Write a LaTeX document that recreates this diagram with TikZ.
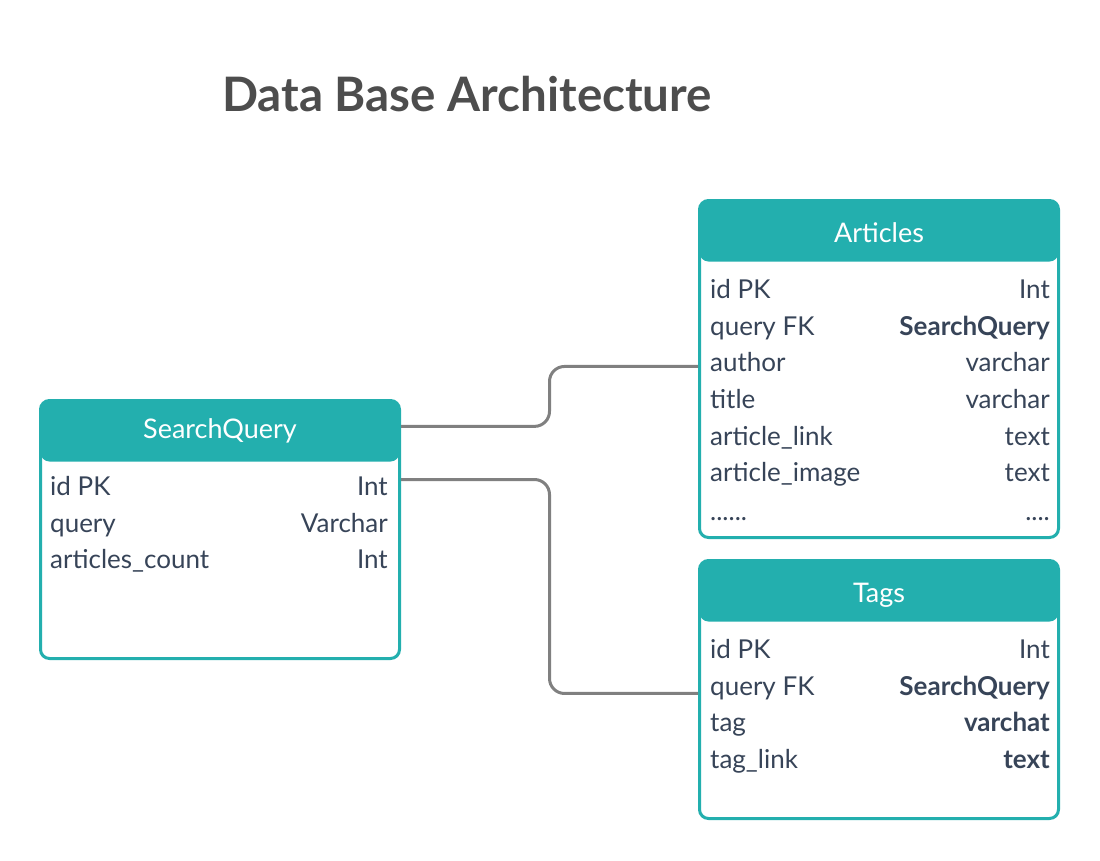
\documentclass[tikz,border=0pt]{standalone}
\usepackage{fontspec}
\setmainfont{Lato}
\usetikzlibrary{calc}
\definecolor{tealc}{RGB}{35,175,174}
\definecolor{inkc}{RGB}{55,68,88}
\definecolor{linkc}{RGB}{128,128,128}
\definecolor{titlec}{RGB}{77,77,77}

\begin{document}
\begin{tikzpicture}[x=1pt,y=-1pt,
  table/.style={draw=tealc, line width=3pt, rounded corners=9pt, fill=white,
    inner sep=0pt, minimum width=359pt, anchor=north west,
    path picture={\fill[tealc] (path picture bounding box.north west)
      rectangle ([yshift=-61pt]path picture bounding box.north east);}},
  headtxt/.style={text=white, font=\fontsize{27}{31}\selectfont, inner sep=0pt, anchor=base},
  field/.style={text=inkc, font=\fontsize{26}{30}\selectfont, inner sep=0pt, anchor=base west},
  ftype/.style={text=inkc, font=\fontsize{26}{30}\selectfont, inner sep=0pt, anchor=base east},
  link/.style={draw=linkc, line width=3pt, rounded corners=15pt}]

\useasboundingbox (0,0) rectangle (1100,860);

\node[text=titlec, font=\fontsize{47.5}{52}\selectfont\bfseries, inner sep=0pt, anchor=base west]
  (title) at (222,111) {Data Base Architecture};

% SearchQuery
\node[table, minimum height=258pt] (sq) at (39,399) {};
\node[headtxt] (sqtitle) at (220,438) {SearchQuery};
\node[field] (sqid) at (50,495) {id PK};
\node[ftype] at (388,495) {Int};
\node[field] (sqquery) at (50,532) {query};
\node[ftype] at (388,532) {Varchar};
\node[field] (sqcount) at (50,568) {articles\_count};
\node[ftype] at (388,568) {Int};

% Articles
\node[table, minimum height=337pt] (art) at (698,199) {};
\node[headtxt] (arthead) at (879,242) {Articles};
\node[field] (artid) at (710,298) {id PK};
\node[ftype] at (1050,298) {Int};
\node[field] (artquery) at (710,335) {query FK};
\node[ftype] at (1050,335) {\bfseries SearchQuery};
\node[field] (artauthor) at (710,371) {author};
\node[ftype] at (1050,371) {varchar};
\node[field] (arttitle) at (710,408) {title};
\node[ftype] at (1050,408) {varchar};
\node[field] (artlink) at (710,445) {article\_link};
\node[ftype] at (1050,445) {text};
\node[field] (artimage) at (710,481) {article\_image};
\node[ftype] at (1050,481) {text};
\node[field] (artmore) at (710,520) {......};
\node[ftype] at (1050,520) {....};

% Tags
\node[table, minimum height=258pt] (tag) at (698,559) {};
\node[headtxt] (taghead) at (879,602) {Tags};
\node[field] (tagid) at (710,658) {id PK};
\node[ftype] at (1050,658) {Int};
\node[field] (tagfk) at (710,695) {query FK};
\node[ftype] at (1050,695) {\bfseries SearchQuery};
\node[field] (tagtag) at (710,731) {tag};
\node[ftype] at (1050,731) {\bfseries varchat};
\node[field] (taglink) at (710,768) {tag\_link};
\node[ftype] at (1050,768) {\bfseries text};

\coordinate (sqa) at ([yshift=4pt]sq.east |- sqtitle.center);
\coordinate (sqb) at ([yshift=6pt]sq.east |- sqid.center);
\coordinate (arta) at ([yshift=2pt]art.west |- artauthor.mid);
\coordinate (tagb) at ([yshift=-1pt]tag.west |- tagfk.mid);

\draw[link] (sqa) -| ($(sqa)!0.5!(arta)$) |- (arta);
\draw[link] (sqb) -| ($(sqb)!0.5!(tagb)$) |- (tagb);

\end{tikzpicture}
\end{document}
